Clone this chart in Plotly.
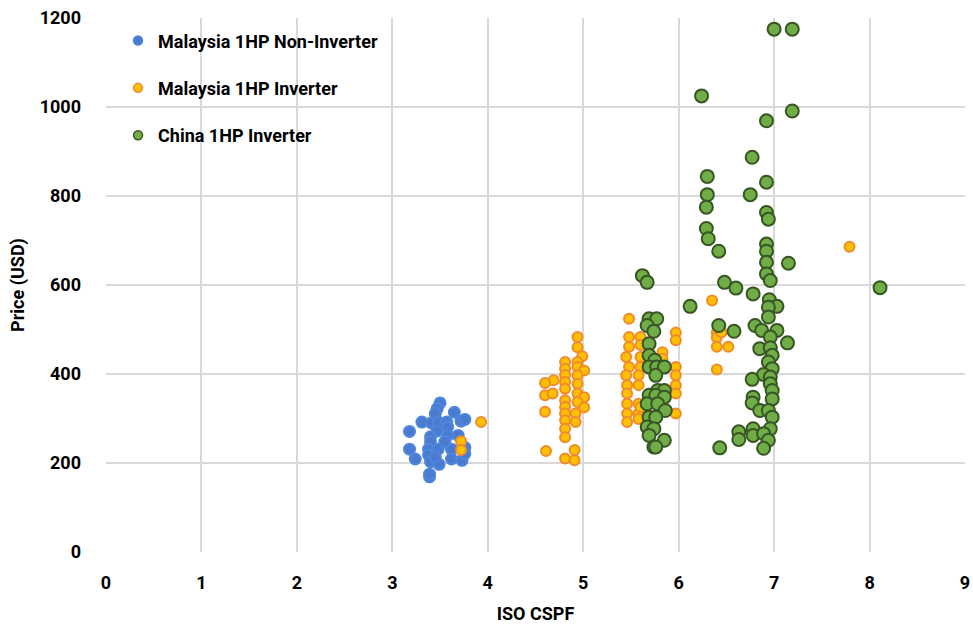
import plotly.graph_objects as go

# Malaysia 1HP Non-Inverter
my_noninv_cspf = [3.50, 3.47, 3.45, 3.65, 3.31, 3.41, 3.48, 3.57, 3.72, 3.76, 3.18, 3.47,
                  3.58, 3.58, 3.40, 3.69, 3.40, 3.18, 3.24, 3.38, 3.38, 3.48, 3.62, 3.62,
                  3.40, 3.49, 3.73, 3.76, 3.39, 3.39, 3.55, 3.45, 3.76]
my_noninv_price = [335, 322, 311, 314, 292, 290, 292, 292, 294, 298, 271, 272,
                   281, 262, 259, 262, 248, 231, 209, 231, 218, 231, 231, 209,
                   203, 197, 206, 221, 169, 175, 248, 214, 235]

# Malaysia 1HP Inverter
my_inv_cspf = [3.93, 3.72, 3.72,
               4.94, 4.94, 4.99, 4.81, 4.94, 4.81, 4.94, 5.01, 4.81, 4.94, 4.69, 4.60,
               4.81, 4.94, 4.60, 4.68, 4.81, 4.94, 5.01, 4.81, 4.94, 5.01, 4.81, 4.60,
               4.81, 4.92, 4.81, 4.92, 4.81, 4.81, 4.61, 4.91, 4.81, 4.91,
               5.48, 5.48, 5.60, 5.48, 5.60, 5.45, 5.60, 5.83, 5.83, 5.97, 5.97, 5.48,
               5.60, 5.45, 5.58, 5.97, 5.97, 5.46, 5.58, 5.97, 5.46, 5.97, 5.46, 5.58,
               5.46, 5.58, 5.97, 5.46, 5.58, 5.60,
               6.35, 6.40, 6.40, 6.40, 6.52, 6.45, 6.40, 7.79]
my_inv_price = [292, 249, 229,
                483, 460, 440, 427, 427, 412, 416, 408, 398, 397, 386, 380,
                382, 378, 352, 356, 367, 356, 348, 341, 337, 325, 326, 315,
                311, 311, 296, 292, 277, 258, 227, 229, 210, 206,
                524, 483, 483, 461, 465, 438, 438, 449, 434, 493, 476, 416,
                416, 397, 397, 416, 397, 375, 375, 375, 356, 356, 333, 333,
                311, 311, 311, 292, 299, 326,
                565, 494, 482, 461, 461, 494, 410, 686]

# China 1HP Inverter
cn_inv_cspf = [5.62, 5.67, 6.12, 5.69, 5.77, 5.67, 5.74, 5.69, 5.69, 5.75, 5.69, 5.77,
               5.85, 5.76, 5.78, 5.85, 5.69, 5.76, 5.85, 5.67, 5.78, 5.86, 5.69, 5.76,
               5.67, 5.74, 5.85, 5.69, 5.74, 5.76,
               7.00, 7.19, 6.24, 7.19, 6.92, 6.77, 6.30, 6.92, 6.30, 6.75, 6.29, 6.92,
               6.94, 6.29, 6.31, 6.42, 6.92, 6.92, 6.92, 7.15, 6.92, 6.96, 6.48, 6.60,
               6.78, 6.95, 7.03, 6.94, 6.94, 6.42, 6.58, 6.80, 6.87, 7.03, 6.96, 7.14,
               6.85, 6.96, 6.98, 6.94, 6.98, 6.89, 6.77, 6.96, 6.96, 6.98, 6.78, 6.98,
               6.77, 6.85, 6.94, 6.98, 6.78, 6.96, 6.63, 6.63, 6.78, 6.89, 6.94, 6.89,
               6.43, 8.11]
cn_inv_price = [621, 606, 552, 524, 524, 509, 496, 468, 442, 431, 416, 416,
                416, 397, 363, 363, 352, 352, 348, 333, 333, 318, 303, 303,
                281, 277, 251, 262, 236, 236,
                1175, 1175, 1025, 991, 969, 887, 844, 831, 803, 803, 775, 763,
                748, 727, 704, 676, 692, 676, 651, 649, 625, 610, 606, 593,
                580, 567, 552, 550, 528, 509, 496, 509, 498, 498, 483, 470,
                457, 459, 442, 427, 412, 399, 388, 393, 378, 363, 348, 344,
                335, 318, 318, 303, 277, 277, 270, 253, 262, 266, 251, 233,
                234, 594]

series = [
    ("Malaysia 1HP Non-Inverter", my_noninv_cspf, my_noninv_price, "#4A7BD0", "#4E86DC", 11),
    ("Malaysia 1HP Inverter", my_inv_cspf, my_inv_price, "#FFC000", "#F08A2C", 10),
    ("China 1HP Inverter", cn_inv_cspf, cn_inv_price, "#70AD47", "#375623", 13),
]

FONT = "Roboto, Arial, sans-serif"

fig = go.Figure()
for name, xs, ys, fill, edge, size in series:
    fig.add_trace(go.Scatter(
        x=xs, y=ys, mode="markers", name=name, showlegend=False,
        marker=dict(size=size, color=fill, line=dict(color=edge, width=2)),
    ))
# small legend swatches, as in the original
for i, (name, xs, ys, fill, edge, size) in enumerate(series):
    fig.add_trace(go.Scatter(
        x=[None], y=[None], mode="markers", name=name, legendgroup=f"g{i}",
        marker=dict(size=9, color=fill, line=dict(color=edge, width=1.5)),
    ))

grid = "#D9D9D9"
fig.update_layout(
    width=973, height=634,
    margin=dict(l=106, r=8, t=18, b=82, autoexpand=False),
    paper_bgcolor="white", plot_bgcolor="white",
    font=dict(family=FONT, size=18, color="black"),
    legend=dict(
        x=0.014, y=0.992, xanchor="left", yanchor="top",
        bgcolor="rgba(0,0,0,0)", traceorder="grouped", tracegroupgap=21,
        font=dict(family=FONT, size=18, color="black", weight="bold"),
    ),
    xaxis=dict(
        range=[0, 9], dtick=1, showgrid=True, gridcolor=grid, gridwidth=2,
        zeroline=False, showline=False, ticklabelstandoff=18,
        ticklabeloverflow="allow", automargin=False,
        tickfont=dict(family=FONT, size=18, weight="bold"),
        title=dict(text="<b>ISO CSPF</b>", font=dict(family=FONT, size=18), standoff=15),
    ),
    yaxis=dict(
        range=[0, 1200], dtick=200, showgrid=True, gridcolor=grid, gridwidth=2,
        zeroline=False, showline=False, ticklabelstandoff=24,
        ticklabeloverflow="allow", automargin=False,
        tickfont=dict(family=FONT, size=18, weight="bold"),
        title=dict(text="<b>Price (USD)</b>", font=dict(family=FONT, size=18), standoff=10),
    ),
)

# drop the default 8px page margin so the figure fills the window exactly
fig.write_html(
    "out.html",
    config={"displayModeBar": False},
    post_script="document.body.style.margin='0'; document.body.style.overflow='hidden';",
)
